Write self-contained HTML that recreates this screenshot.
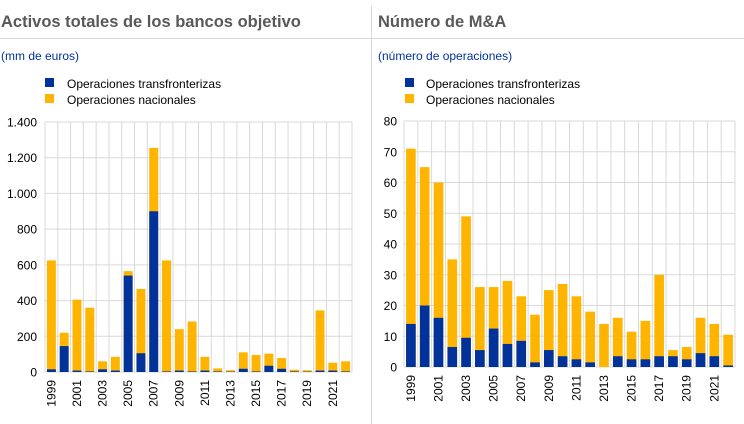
<!DOCTYPE html>
<html><head><meta charset="utf-8"><style>
html,body{margin:0;padding:0;background:#fff;}
svg{display:block;font-family:"Liberation Sans",sans-serif;}
</style></head><body>
<svg width="744" height="424" xmlns="http://www.w3.org/2000/svg">
<line x1="0" y1="38.5" x2="744" y2="38.5" stroke="#d9d9d9"/>
<line x1="371.5" y1="6" x2="371.5" y2="424" stroke="#d9d9d9"/>
<text x="1" y="27" font-size="16.5" font-weight="bold" fill="#595959">Activos totales de los bancos objetivo</text>
<text x="378" y="27" font-size="16.5" font-weight="bold" fill="#595959">Número de M&amp;A</text>
<text x="1" y="60" font-size="12" fill="#003299">(mm de euros)</text>
<text x="378" y="60" font-size="12" fill="#003299">(número de operaciones)</text>
<g font-size="12" fill="#000">
<rect x="45" y="78" width="9" height="9" fill="#003299"/><rect x="45" y="94" width="9" height="9" fill="#ffb400"/>
<text x="67" y="88">Operaciones  transfronterizas</text><text x="67" y="104">Operaciones  nacionales</text>
<rect x="405" y="78" width="9" height="9" fill="#003299"/><rect x="405" y="94" width="9" height="9" fill="#ffb400"/>
<text x="426" y="88">Operaciones  transfronterizas</text><text x="426" y="104">Operaciones  nacionales</text>
</g>
<g id="c"></g>
</svg>
<script>
const NS="http://www.w3.org/2000/svg",g=document.getElementById('c');
function el(t,a,txt){const e=document.createElementNS(NS,t);for(const k in a)e.setAttribute(k,a[k]);if(txt!=null)e.textContent=txt;g.appendChild(e);}
function chart(x0,x1,y0,y1,max,step,labels,tot,blue,lx){
 const n=24,cw=(x1-x0)/n,h=y0-y1;
 for(let v=0;v<=max;v+=step){const y=y0-v/max*h;el('line',{x1:x0,x2:x1,y1:y,y2:y,stroke:'#d9d9d9','stroke-width':1});
  el('text',{x:lx,y:y+4.5,'font-size':12,'text-anchor':'end',fill:'#000'},labels(v));}
 for(let i=0;i<=n;i++){const x=x0+i*cw;el('line',{x1:x,x2:x,y1:y1,y2:y0,stroke:'#d9d9d9','stroke-width':1});}
 for(let i=0;i<n;i++){const bx=x0+i*cw+cw*0.15,bw=cw*0.7;
  const ty=y0-tot[i]/max*h,by=y0-blue[i]/max*h;
  el('rect',{x:bx,y:ty,width:bw,height:y0-ty,fill:'#ffb400'});
  el('rect',{x:bx,y:by,width:bw,height:y0-by,fill:'#003299'});
  if(i%2==0){const cx=x0+i*cw+cw/2+4;el('text',{x:cx,y:y0+8,'font-size':12,'text-anchor':'end',transform:`rotate(-90 ${cx} ${y0+8})`,fill:'#000'},1999+i);}
 }
}
chart(45,352,372,122,1400,200,v=>v>=1000?Math.floor(v/1000)+'.'+String(v%1000).padStart(3,'0'):v,
[625,220,405,360,60,85,565,465,1255,625,240,283,85,20,10,110,95,103,78,13,10,345,52,60],
[15,145,8,3,15,8,540,105,900,3,8,3,8,3,2,18,3,35,18,3,2,8,8,3],37);
chart(404,735,367,121,80,10,v=>v,
[71,65,60,35,49,26,26,28,23,17,25,27,23,18,14,16,11.5,15,30,5.5,6.5,16,14,10.5],
[14,20,16,6.5,9.5,5.5,12.5,7.5,8.5,1.5,5.5,3.5,2.5,1.5,0,3.5,2.5,2.5,3.5,3.5,2.5,4.5,3.5,0.5],397);
</script>
</body></html>
